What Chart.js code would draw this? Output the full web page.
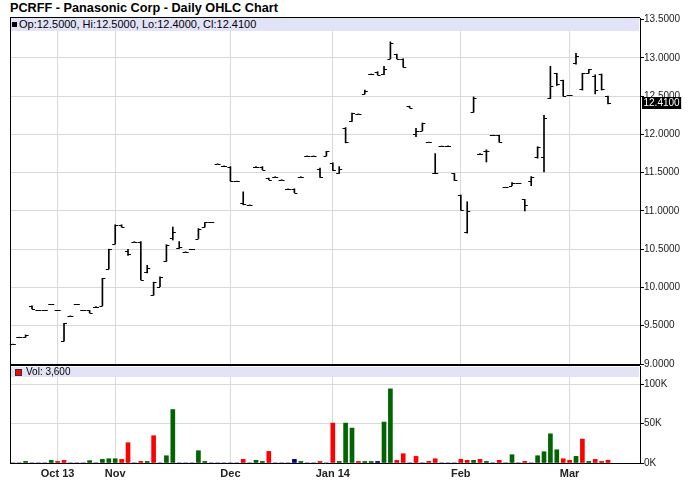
<!DOCTYPE html>
<html>
<head>
<meta charset="utf-8">
<script src="https://cdn.jsdelivr.net/npm/chart.js@4.4.1/dist/chart.umd.min.js"></script>
<style>
  body { margin: 0; background: #fff; font-family: "Liberation Sans", Arial, sans-serif; }
  #wrap { position: relative; width: 688px; height: 503px; overflow: hidden; }
  #title { position: absolute; left: 10px; top: 1px; font-size: 12.7px; font-weight: bold; line-height: 15px; color: #000; white-space: nowrap; }
  .pane { position: absolute; left: 0; }
  .band { position: absolute; left: 11px; width: 628px; background: #e3e3f8; white-space: nowrap; color: #000; }
  .band i { position: absolute; display: block; }
  #priceBand { top: 18px; height: 13px; font-size: 11px; line-height: 13px; }
  #volBand { top: 367px; height: 10px; font-size: 10px; line-height: 10px; }
</style>
</head>
<body>
<div id="wrap">
  <div id="title">PCRFF - Panasonic Corp - Daily OHLC Chart</div>
  <canvas class="pane" id="priceChart" width="688" height="372" style="top:0"></canvas>
  <canvas class="pane" id="volChart" width="688" height="143" style="top:360px"></canvas>
  <div class="band" id="priceBand"><i style="left:1px;top:4px;width:5px;height:5px;background:#000"></i><span id="priceText" style="position:absolute;left:8px;top:0"></span></div>
  <div class="band" id="volBand"><i style="left:4px;top:2px;width:5px;height:5px;background:#f00;border:1px solid #333"></i><span id="volText" style="position:absolute;left:15px;top:0"></span></div>
</div>
<script>
// month boundaries (trading-day index) and their labels
const monthIdx = [7, 16, 34, 50, 70, 87];
const monthLabels = ['Oct 13', 'Nov', 'Dec', 'Jan 14', 'Feb', 'Mar'];
const priceTicks = [9, 9.5, 10, 10.5, 11, 11.5, 12, 12.5, 13, 13.5];
const volTicks = [0, 50000, 100000];

const openPx = [9.26, 9.35, 9.35, 9.76, 9.70, 9.70, 9.78, 9.70, 9.30, 9.63,
  9.78, 9.70, 9.70, 9.75, 9.76, 10.24, 10.57, 10.82, 10.48, 10.60,
  10.60, 10.20, 9.90, 10.01, 10.34, 10.65, 10.52, 10.47, 10.50, 10.64,
  10.79, 10.85, 11.62, 11.59, 11.58, 11.39, 11.10, 11.08, 11.58, 11.58,
  11.43, 11.45, 11.41, 11.29, 11.29, 11.45, 11.72, 11.72, 11.55, 11.72,
  11.63, 11.50, 12.08, 12.17, 12.27, 12.53, 12.79, 12.82, 12.79, 12.99,
  13.05, 12.99, 12.37, 12.00, 12.05, 11.90, 11.49, 11.85, 11.85, 11.49,
  11.21, 10.72, 12.29, 11.75, 11.79, 11.99, 11.99, 11.31, 11.33, 11.36,
  11.15, 11.39, 11.70, 11.71, 12.48, 12.80, 12.71, 12.51, 12.93, 12.60,
  12.80, 12.77, 12.79, 12.50];
const highPx = [9.26, 9.35, 9.38, 9.76, 9.70, 9.70, 9.78, 9.70, 9.53, 9.63,
  9.78, 9.70, 9.70, 9.75, 10.12, 10.50, 10.82, 10.82, 10.50, 10.60,
  10.60, 10.29, 10.07, 10.14, 10.56, 10.79, 10.60, 10.47, 10.50, 10.77,
  10.85, 10.85, 11.62, 11.59, 11.58, 11.39, 11.25, 11.08, 11.58, 11.58,
  11.43, 11.45, 11.41, 11.29, 11.29, 11.45, 11.72, 11.72, 11.56, 11.78,
  11.63, 11.58, 12.09, 12.28, 12.27, 12.58, 12.79, 12.82, 12.89, 13.21,
  13.05, 12.99, 12.37, 12.08, 12.15, 11.90, 11.75, 11.85, 11.85, 11.49,
  11.21, 11.12, 12.49, 11.75, 11.80, 11.99, 11.99, 11.31, 11.37, 11.36,
  11.15, 11.45, 11.84, 12.25, 12.89, 12.80, 12.71, 12.51, 13.06, 12.80,
  12.85, 12.78, 12.79, 12.50];
const lowPx = [9.26, 9.35, 9.35, 9.72, 9.70, 9.70, 9.78, 9.70, 9.30, 9.63,
  9.78, 9.70, 9.67, 9.75, 9.76, 10.24, 10.57, 10.79, 10.42, 10.60,
  10.10, 10.19, 9.90, 10.01, 10.34, 10.62, 10.51, 10.47, 10.50, 10.64,
  10.79, 10.85, 11.62, 11.59, 11.39, 11.39, 11.08, 11.08, 11.58, 11.54,
  11.41, 11.45, 11.41, 11.29, 11.24, 11.45, 11.72, 11.72, 11.44, 11.72,
  11.53, 11.49, 11.89, 12.17, 12.27, 12.53, 12.79, 12.78, 12.78, 12.99,
  12.99, 12.88, 12.35, 11.97, 12.05, 11.90, 11.49, 11.85, 11.85, 11.40,
  11.01, 10.71, 12.29, 11.75, 11.64, 11.99, 11.90, 11.31, 11.33, 11.36,
  11.00, 11.33, 11.69, 11.51, 12.47, 12.64, 12.50, 12.51, 12.92, 12.58,
  12.80, 12.53, 12.58, 12.40];
const closePx = [9.26, 9.35, 9.38, 9.72, 9.70, 9.70, 9.78, 9.70, 9.53, 9.63,
  9.78, 9.70, 9.67, 9.75, 10.12, 10.50, 10.82, 10.79, 10.44, 10.60,
  10.10, 10.26, 10.07, 10.14, 10.56, 10.72, 10.53, 10.47, 10.50, 10.77,
  10.85, 10.85, 11.62, 11.59, 11.39, 11.39, 11.09, 11.08, 11.58, 11.54,
  11.41, 11.45, 11.41, 11.29, 11.24, 11.45, 11.72, 11.72, 11.45, 11.78,
  11.53, 11.55, 11.90, 12.28, 12.27, 12.57, 12.79, 12.78, 12.86, 13.20,
  12.99, 12.88, 12.35, 12.05, 12.15, 11.90, 11.49, 11.85, 11.85, 11.40,
  11.01, 11.00, 12.48, 11.75, 11.78, 11.99, 11.90, 11.31, 11.37, 11.36,
  11.08, 11.44, 11.83, 12.21, 12.63, 12.66, 12.50, 12.51, 13.02, 12.80,
  12.85, 12.58, 12.60, 12.41];
const volume = [0, 0, 2000, 0, 0, 0, 3300, 2000, 3300, 0,
  0, 0, 3000, 0, 4600, 5400, 5400, 4600, 25700, 0,
  2000, 2000, 34600, 0, 9200, 67800, 0, 0, 0, 15600,
  2000, 0, 0, 0, 0, 0, 4600, 0, 3400, 2000,
  14700, 0, 0, 0, 4600, 2000, 0, 0, 2000, 0,
  50600, 2000, 50600, 44300, 2000, 2000, 2000, 2000, 51900, 94000,
  3300, 11800, 0, 8400, 0, 2000, 5400, 0, 0, 0,
  4600, 3400, 3400, 4600, 2000, 0, 3400, 0, 10500, 0,
  2000, 0, 9200, 14300, 37000, 16800, 5400, 3400, 8400, 30300,
  2000, 4600, 2000, 3600];
// 1 = up day, -1 = down day, 0 = unchanged
const volDir = [0, 0, 1, 0, 0, 0, 1, -1, -1, 0,
  0, 0, 1, 0, 1, 1, 1, -1, -1, 0,
  -1, 1, -1, 0, 1, 1, 0, 0, 0, 1,
  1, 0, 0, 0, 0, 0, -1, 0, 1, 1,
  -1, 0, 0, 0, 0, 1, 0, 0, -1, 0,
  -1, 1, 1, 1, -1, 1, 1, 0, 1, 1,
  -1, -1, 0, -1, 0, -1, -1, 0, 0, 0,
  -1, -1, 1, -1, 1, 0, -1, 0, 1, 0,
  -1, 0, 1, 1, 1, 1, -1, -1, 1, -1,
  1, -1, -1, -1];

const last = closePx.length - 1;
const gridColor = '#d9d9d9';
const dirColor = { '1': '#006400', '-1': '#ff0000', '0': '#000080' };

document.getElementById('priceText').textContent =
  `Op:${openPx[last].toFixed(4)}, Hi:${highPx[last].toFixed(4)}, Lo:${lowPx[last].toFixed(4)}, Cl:${closePx[last].toFixed(4)}`;
document.getElementById('volText').textContent = 'Vol: ' + volume[last].toLocaleString('en-US');

Chart.defaults.font.family = '"Liberation Sans", Arial, sans-serif';
Chart.defaults.color = '#222';

// x axis shared by both panes: trading-day index
function xAxis(showLabels) {
  return {
    type: 'linear',
    offset: false,
    min: -0.44,
    max: 98,
    afterBuildTicks: s => { s.ticks = monthIdx.map(v => ({ value: v })); },
    afterFit: s => { s.height = showLabels ? 20 : 0; },
    grid: { color: gridColor, drawTicks: false, offset: false },
    border: { display: showLabels, color: '#000' },
    ticks: {
      display: showLabels,
      autoSkip: false,
      maxRotation: 0,
      padding: 4,
      font: { size: 11, weight: 'bold' },
      callback: (v, i) => monthLabels[i]
    }
  };
}

// thin black frame along left/top/bottom of the plot area
function framePlugin(bottomLine) {
  return {
    id: 'frame',
    afterDraw(chart) {
      const { ctx, chartArea: a } = chart;
      ctx.save();
      ctx.fillStyle = '#000';
      ctx.fillRect(a.left, a.top - 1, 1, a.bottom - a.top + 2);
      ctx.fillRect(a.left, a.top - 1, a.right - a.left, 1);
      if (bottomLine) ctx.fillRect(a.left, a.bottom, a.right - a.left, 1);
      ctx.restore();
    }
  };
}

// open tick on the left, close tick on the right of each high-low bar
const ohlcTicks = {
  id: 'ohlcTicks',
  afterDatasetsDraw(chart) {
    const { ctx, scales: { x, y } } = chart;
    ctx.save();
    ctx.strokeStyle = '#000';
    ctx.lineWidth = 1;
    ctx.beginPath();
    openPx.forEach((o, i) => {
      const cx = x.getPixelForValue(i);
      const yo = Math.round(y.getPixelForValue(o)) + 0.5;
      const yc = Math.round(y.getPixelForValue(closePx[i])) + 0.5;
      ctx.moveTo(cx - 3, yo); ctx.lineTo(cx, yo);
      ctx.moveTo(cx, yc); ctx.lineTo(cx + 3, yc);
    });
    ctx.stroke();
    ctx.restore();
  }
};

// last close shown in a black box on the price axis
const lastTag = {
  id: 'lastTag',
  afterDraw(chart) {
    const { ctx, scales: { y } } = chart;
    const py = Math.round(y.getPixelForValue(closePx[last]));
    const txt = closePx[last].toFixed(4);
    ctx.save();
    ctx.font = '10px "Liberation Sans", Arial, sans-serif';
    const w = ctx.measureText(txt).width;
    ctx.fillStyle = '#000';
    ctx.fillRect(y.left + 2, py - 6, w + 3, 12);
    ctx.fillStyle = '#fff';
    ctx.textBaseline = 'middle';
    ctx.fillText(txt, y.left + 3.5, py + 0.5);
    ctx.restore();
  }
};

new Chart(document.getElementById('priceChart'), {
  type: 'bar',
  data: {
    datasets: [{
      data: lowPx.map((l, i) => ({ x: i, y: [l, highPx[i]] })),
      backgroundColor: '#000',
      barThickness: 1,
      borderWidth: 0
    }]
  },
  options: {
    responsive: false,
    animation: false,
    layout: { padding: { left: 10, top: 18, right: 0, bottom: 8 } },
    plugins: { legend: { display: false }, tooltip: { enabled: false } },
    scales: {
      x: xAxis(false),
      y: {
        position: 'right',
        min: 9,
        max: 13.522,
        afterBuildTicks: s => { s.ticks = priceTicks.map(v => ({ value: v })); },
        afterFit: s => { s.width = 48; },
        grid: { color: gridColor, tickColor: '#000', tickLength: 4 },
        border: { color: '#000' },
        ticks: { padding: 0, font: { size: 10 }, callback: v => v.toFixed(4) }
      }
    }
  },
  plugins: [ohlcTicks, framePlugin(true), lastTag]
});

new Chart(document.getElementById('volChart'), {
  type: 'bar',
  data: {
    datasets: [{
      data: volume.map((v, i) => ({ x: i, y: v })),
      backgroundColor: volDir.map(d => dirColor[d]),
      barThickness: 4,
      borderWidth: 0
    }]
  },
  options: {
    responsive: false,
    animation: false,
    layout: { padding: { left: 10, top: 6, right: 0, bottom: 20 } },
    plugins: { legend: { display: false }, tooltip: { enabled: false } },
    scales: {
      x: xAxis(true),
      y: {
        position: 'right',
        min: 0,
        max: 123000,
        afterBuildTicks: s => { s.ticks = volTicks.map(v => ({ value: v })); },
        afterFit: s => { s.width = 48; },
        grid: { color: gridColor, tickColor: '#000', tickLength: 4 },
        border: { color: '#000' },
        ticks: { padding: 0, font: { size: 10 }, callback: v => (v / 1000) + 'K' }
      }
    }
  },
  plugins: [framePlugin(false)]
});
</script>
</body>
</html>
